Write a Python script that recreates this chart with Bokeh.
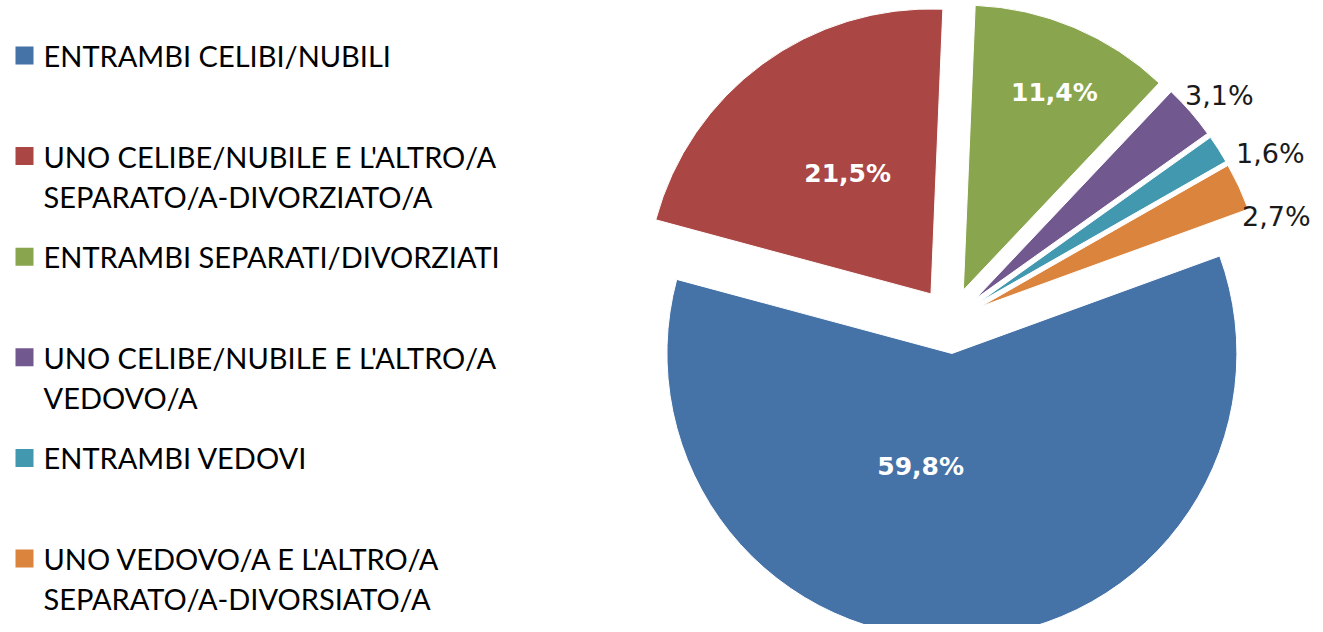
import numpy as np
from bokeh.plotting import figure
from bokeh.models import ColumnDataSource, Range1d
from bokeh.core.properties import value
from bokeh.embed import file_html
from bokeh.resources import INLINE

# ---- data ----
categories = [
    "ENTRAMBI CELIBI/NUBILI",
    "UNO CELIBE/NUBILE E L'ALTRO/A\nSEPARATO/A-DIVORZIATO/A",
    "ENTRAMBI SEPARATI/DIVORZIATI",
    "UNO CELIBE/NUBILE E L'ALTRO/A\nVEDOVO/A",
    "ENTRAMBI VEDOVI",
    "UNO VEDOVO/A E L'ALTRO/A\nSEPARATO/A-DIVORSIATO/A",
]
values = [59.8, 21.5, 11.4, 3.1, 1.6, 2.7]
value_labels = ["59,8%", "21,5%", "11,4%", "3,1%", "1,6%", "2,7%"]
colors = ["#4572A7", "#AA4643", "#89A54E", "#71588F", "#4198AF", "#DB843D"]

# ---- style / layout ----
W, H = 1315, 624
PAGE_H = 632
CX, CY = 950.0, PAGE_H - 320.0
R = 285.0
EXPLODE = 33.0
A0 = 20.0  # degrees, where the first slice begins (clockwise order)
lab_rf = [0.41, 0.515, 0.762, 1.115, 1.15, 1.085]
lab_da = [-18.0, -1.7, -1.9, -1.2, -5.6, -8.0]
inside_n = 3

vals = np.array(values, dtype=float)
frac = vals / vals.sum()
cum_end = np.cumsum(frac)
cum_start = cum_end - frac
start_deg = A0 - cum_end * 360.0
end_deg = A0 - cum_start * 360.0
bis = np.radians((start_deg + end_deg) / 2.0)
vx = CX + EXPLODE * np.cos(bis)
vy = CY + EXPLODE * np.sin(bis)

src = ColumnDataSource(dict(
    vx=vx, vy=vy,
    start=np.radians(start_deg), end=np.radians(end_deg),
    color=colors,
))

p = figure(width=W, height=H, x_range=Range1d(0, W), y_range=Range1d(PAGE_H - H, PAGE_H),
           output_backend="svg", toolbar_location=None, min_border=0)
p.axis.visible = False
p.grid.visible = False
p.outline_line_color = None
p.background_fill_color = "white"
p.border_fill_color = "white"

p.wedge(x="vx", y="vy", radius=R, start_angle="start", end_angle="end",
        fill_color="color", line_color="white", line_width=1, source=src)

la = bis + np.radians(np.array(lab_da))
lx = vx + np.array(lab_rf) * R * np.cos(la)
ly = vy + np.array(lab_rf) * R * np.sin(la)

in_src = ColumnDataSource(dict(x=lx[:inside_n], y=ly[:inside_n], t=value_labels[:inside_n]))
out_src = ColumnDataSource(dict(x=lx[inside_n:], y=ly[inside_n:], t=value_labels[inside_n:]))
p.text(x="x", y="y", text="t", source=in_src, text_color="white", text_font=value("DejaVu Sans"),
       text_font_style="bold", text_font_size="25px", text_align="center", text_baseline="middle")
p.text(x="x", y="y", text="t", source=out_src, text_color="#1a1a1a", text_font=value("DejaVu Sans"),
       text_font_size="27px", text_align="center", text_baseline="middle")

# ---- legend (drawn) ----
LEG_Y0 = 55.0
LEG_STEP = 100.6
LINE_STEP = 40.0
sq_x, sq_y, sq_c = [], [], []
tx, ty, tt = [], [], []
for i, (cat, c) in enumerate(zip(categories, colors)):
    yc = LEG_Y0 + i * LEG_STEP
    sq_x.append(24.0)
    sq_y.append(PAGE_H - yc)
    sq_c.append(c)
    for j, line in enumerate(cat.split("\n")):
        tx.append(43.0)
        ty.append(PAGE_H - (yc + j * LINE_STEP))
        tt.append(line)

p.rect(x=sq_x, y=sq_y, width=18, height=18, fill_color=sq_c, line_color=None)
p.text(x=tx, y=ty, text=tt, text_color="#000000", text_font=value("Lato"),
       text_font_size="29px", text_align="left", text_baseline="middle")

open("out.html", "w").write(file_html(p, INLINE))
